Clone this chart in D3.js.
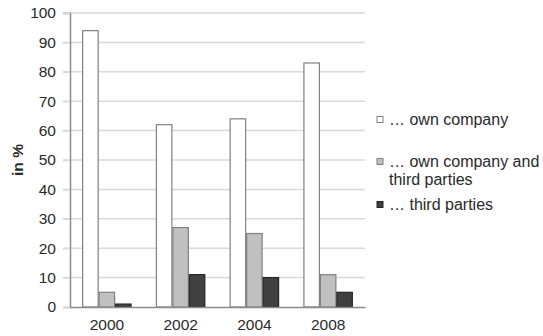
<!DOCTYPE html>
<html>
<head>
<meta charset="utf-8">
<script src="https://cdn.jsdelivr.net/npm/d3@7"></script>
<style>
  html, body { margin: 0; padding: 0; background: #fff; }
  svg { display: block; font-family: "Liberation Sans", Arial, sans-serif; }
</style>
</head>
<body>
<svg id="chart" width="543" height="336"></svg>
<script>
// Survey years and shares (in %) for each answer group
const years = ["2000", "2002", "2004", "2008"];
const ownCompany = [94, 62, 64, 83];
const ownAndThird = [5, 27, 25, 11];
const thirdParties = [1, 11, 10, 5];
const seriesNames = ["… own company", "… own company and\nthird parties", "… third parties"];
const yTicks = [0, 10, 20, 30, 40, 50, 60, 70, 80, 90, 100];

const seriesValues = [ownCompany, ownAndThird, thirdParties];
const fills = ["#ffffff", "#c0c0c0", "#404040"];
const strokes = ["#808080", "#808080", "#262626"];

const svg = d3.select("#chart");
const m = { left: 70, right: 178, top: 13, bottom: 29 };
const W = 543, H = 336;
const FONT = "'Liberation Sans', Arial, sans-serif";

const x = d3.scaleBand().domain(years).range([m.left, W - m.right]).paddingInner(0.33).paddingOuter(0.165);
const xs = d3.scaleBand().domain(d3.range(seriesValues.length)).range([0, x.bandwidth()]);
const y = d3.scaleLinear().domain([0, 100]).range([H - m.bottom, m.top]);

// horizontal gridlines
svg.append("g")
  .selectAll("line")
  .data(yTicks.filter(d => d > 0))
  .join("line")
  .attr("x1", m.left - 7).attr("x2", W - m.right)
  .attr("y1", d => y(d)).attr("y2", d => y(d))
  .attr("stroke", "#d9d9d9").attr("stroke-width", 1.5);

// y axis
const yAxis = svg.append("g")
  .attr("transform", `translate(${m.left},0)`)
  .call(d3.axisLeft(y).tickValues(yTicks).tickSize(7).tickPadding(7));
yAxis.select(".domain").attr("stroke", "#8c8c8c").attr("stroke-width", 1.5);
yAxis.selectAll(".tick line").attr("stroke", "#d9d9d9").attr("stroke-width", 1.5);
yAxis.selectAll(".tick text").attr("font-size", 15.5).attr("fill", "#2a2a2a").attr("font-family", FONT);

// bars
const groups = svg.append("g")
  .selectAll("g")
  .data(years)
  .join("g")
  .attr("transform", d => `translate(${x(d)},0)`);

groups.selectAll("rect")
  .data((d, i) => seriesValues.map((vals, s) => ({ s, v: vals[i] })))
  .join("rect")
  .attr("x", d => xs(d.s) + 0.5)
  .attr("width", xs.bandwidth() - 1)
  .attr("y", d => y(d.v))
  .attr("height", d => y(0) - y(d.v))
  .attr("fill", d => fills[d.s])
  .attr("stroke", d => strokes[d.s])
  .attr("stroke-width", 1.2);

// x axis baseline and labels
const xAxis = svg.append("g")
  .attr("transform", `translate(0,${y(0)})`)
  .call(d3.axisBottom(x).tickSize(0).tickPadding(12));
xAxis.select(".domain").attr("stroke", "#8c8c8c").attr("stroke-width", 1.5);
xAxis.selectAll(".tick text").attr("font-size", 15.5).attr("fill", "#2a2a2a").attr("font-family", FONT);

// y axis title
svg.append("text")
  .attr("transform", `translate(23,${(m.top + H - m.bottom) / 2}) rotate(-90)`)
  .attr("text-anchor", "middle")
  .attr("font-size", 15.5).attr("font-weight", "bold").attr("fill", "#2a2a2a")
  .text("in %");

// legend
const legendY = [120, 162, 205];
const legend = svg.append("g");
seriesNames.forEach((name, i) => {
  legend.append("rect")
    .attr("x", 377).attr("y", legendY[i] - 3.5)
    .attr("width", 6).attr("height", 6)
    .attr("fill", fills[i]).attr("stroke", strokes[i]).attr("stroke-width", 1);
  const t = legend.append("text")
    .attr("x", 389).attr("y", legendY[i] + 5)
    .attr("font-size", 16).attr("fill", "#2a2a2a");
  name.split("\n").forEach((line, k) => {
    t.append("tspan").attr("x", 389).attr("dy", k === 0 ? 0 : 18).text(line);
  });
});
</script>
</body>
</html>
